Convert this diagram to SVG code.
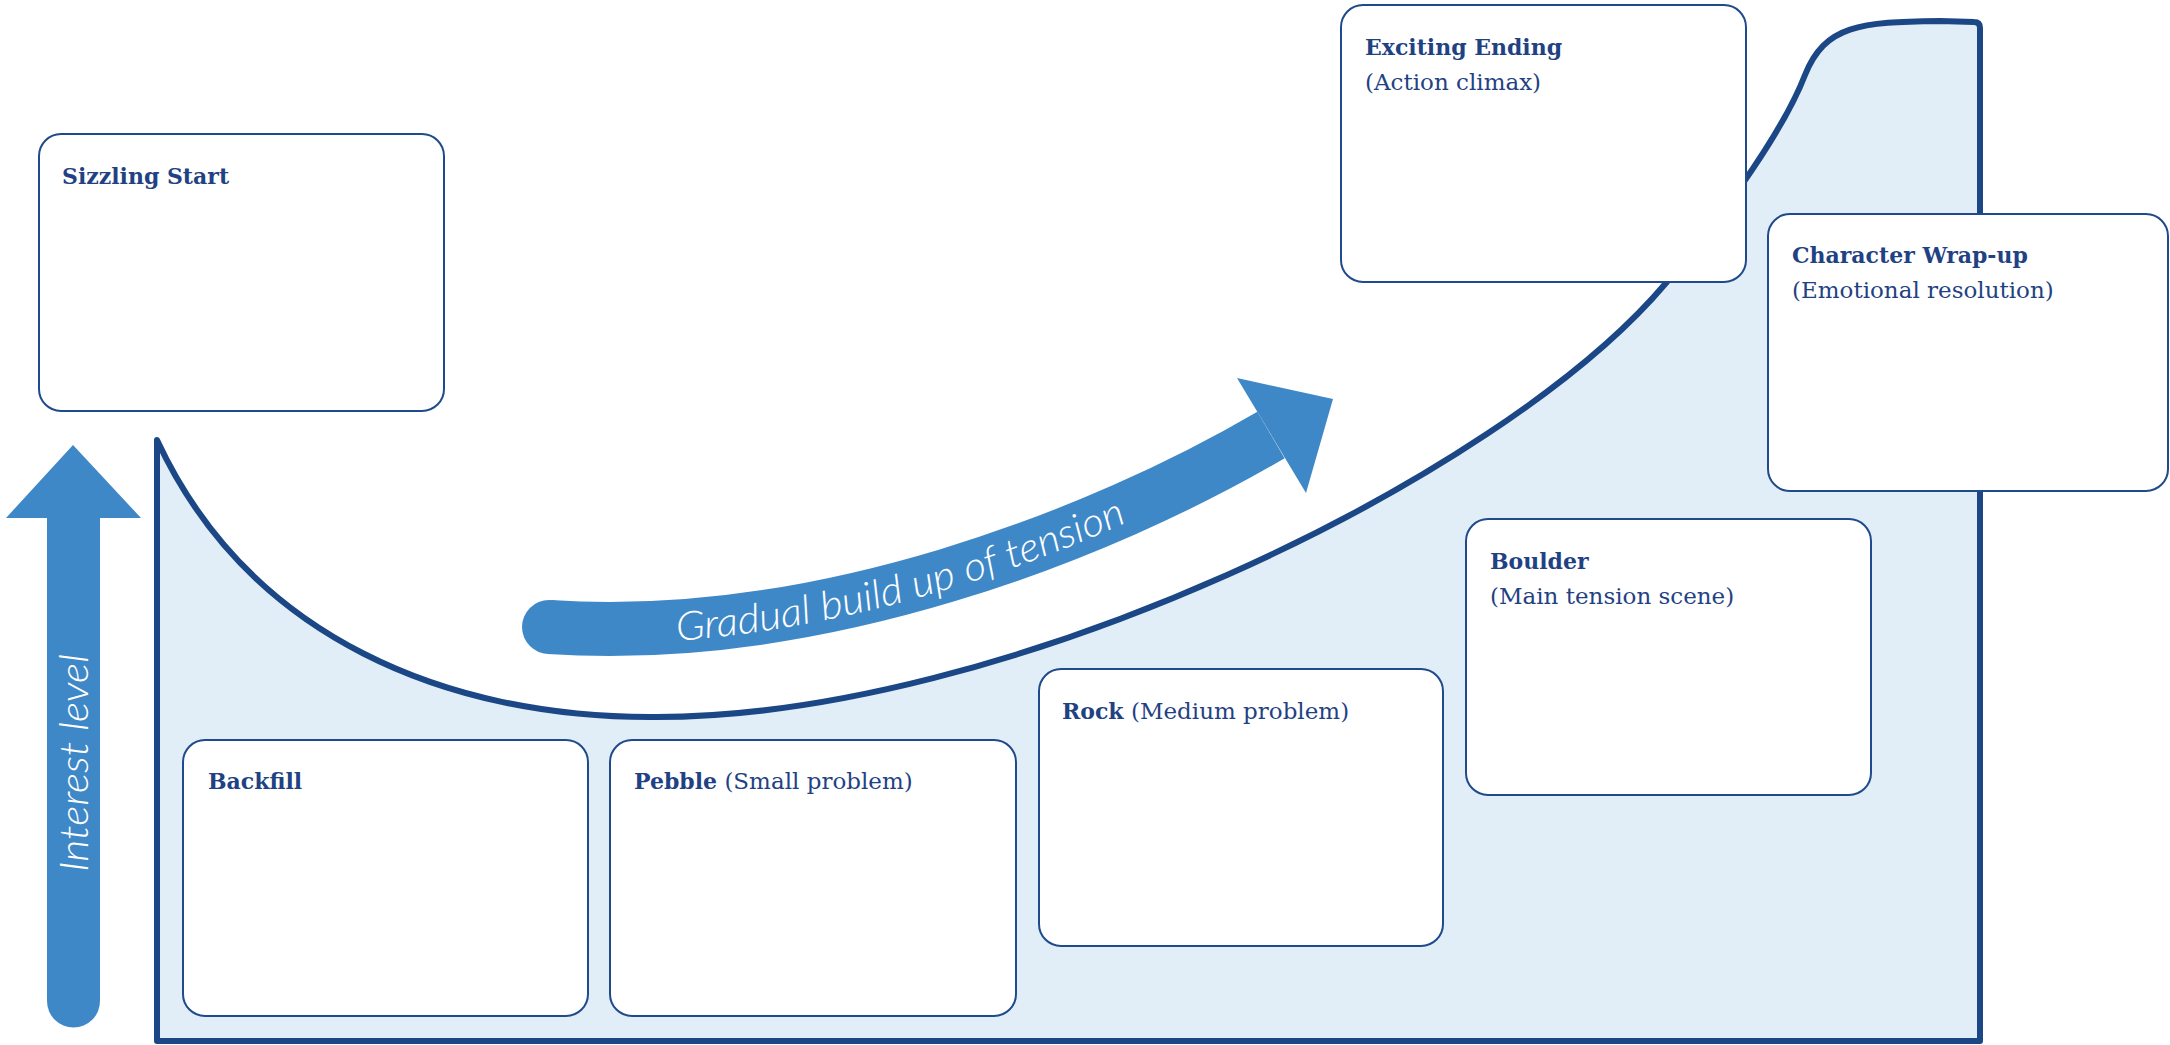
<svg xmlns="http://www.w3.org/2000/svg" width="2170" height="1045" viewBox="0 0 2170 1045">
<defs>
<style>
.box{fill:#ffffff;stroke:#1f4a8c;stroke-width:2}
.t{font-family:"DejaVu Serif","Liberation Serif",serif;font-size:22px;font-weight:bold;fill:#1f4283}
.s{font-family:"DejaVu Serif","Liberation Serif",serif;font-size:23px;font-weight:normal;fill:#1f4283}
.lbl{font-family:Lato,"Open Sans","DejaVu Sans",sans-serif;font-style:italic;font-weight:300;font-size:40px;fill:#ffffff}
</style>
<path id="buildPath" d="M549,641 C820,659 1100,549 1271,449"/>
</defs>
<rect x="0" y="0" width="2170" height="1045" fill="#ffffff"/>
<g id="tension-area">
<path d="M157,440 C250,640 450,717 650,717 C1000,720 1500,480 1666,283 C1706,236 1780,140 1805,75 C1825,25 1860,22 1940,21 L1974,22 Q1980,22 1980,28 L1980,1041 L157,1041 Z" fill="#e1eef7" stroke="#1c4786" stroke-width="6" stroke-linejoin="round"/>
</g>
<g id="connectors">
<g id="interest-arrow">
<polygon points="73,445 141,518 6,518" fill="#3f88c8"/>
<path d="M47,516 L47,1001 A26.5,26.5 0 0 0 100,1001 L100,516 Z" fill="#3f88c8"/>
<text class="lbl" transform="translate(88,872) rotate(-90)" textLength="218" lengthAdjust="spacingAndGlyphs">Interest level</text>
</g>
<g id="buildup-arrow">
<path d="M549,627 C820,645 1100,535 1271,435" fill="none" stroke="#3f88c8" stroke-width="54"/>
<circle cx="549" cy="627" r="27" fill="#3f88c8"/>
<polygon points="1237,378 1333,399 1306,493" fill="#3f88c8"/>
<text class="lbl"><textPath href="#buildPath" startOffset="128" textLength="468" lengthAdjust="spacingAndGlyphs">Gradual build up of tension</textPath></text>
</g>
</g>
<g id="node-sizzling">
<rect class="box" x="39" y="134" width="405" height="277" rx="22"/>
<text class="t" x="62" y="184">Sizzling Start</text>
</g>
<g id="node-exciting">
<rect class="box" x="1341" y="5" width="405" height="277" rx="22"/>
<text class="t" x="1365" y="55">Exciting Ending</text>
<text class="s" x="1365" y="90">(Action climax)</text>
</g>
<g id="node-character">
<rect class="box" x="1768" y="214" width="400" height="277" rx="22"/>
<text class="t" x="1792" y="263">Character Wrap-up</text>
<text class="s" x="1792" y="298">(Emotional resolution)</text>
</g>
<g id="node-boulder">
<rect class="box" x="1466" y="519" width="405" height="276" rx="22"/>
<text class="t" x="1490" y="569">Boulder</text>
<text class="s" x="1490" y="604">(Main tension scene)</text>
</g>
<g id="node-rock">
<rect class="box" x="1039" y="669" width="404" height="277" rx="22"/>
<text x="1062" y="719"><tspan class="t">Rock</tspan><tspan class="s"> (Medium problem)</tspan></text>
</g>
<g id="node-backfill">
<rect class="box" x="183" y="740" width="405" height="276" rx="22"/>
<text class="t" x="208" y="789">Backfill</text>
</g>
<g id="node-pebble">
<rect class="box" x="610" y="740" width="406" height="276" rx="22"/>
<text x="634" y="789"><tspan class="t">Pebble</tspan><tspan class="s"> (Small problem)</tspan></text>
</g>
</svg>
